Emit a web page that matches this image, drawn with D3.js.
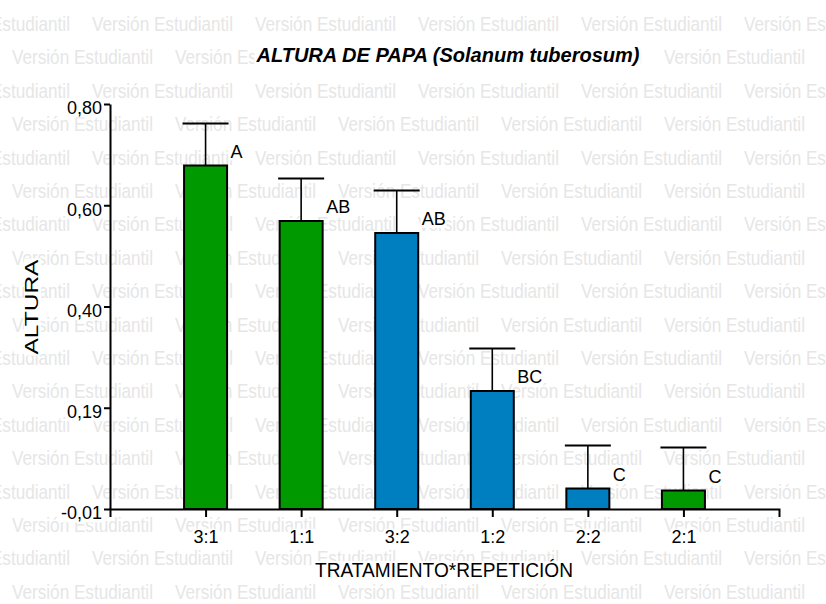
<!DOCTYPE html>
<html>
<head>
<meta charset="utf-8">
<script src="https://cdn.jsdelivr.net/npm/d3@7"></script>
<style>
  body { margin: 0; background: #fff; }
  svg { display: block; font-family: "Liberation Sans", Arial, sans-serif; }
</style>
</head>
<body>
<div id="chart"></div>
<script>
// data
let tratamientos = ["3:1", "1:1", "3:2", "1:2", "2:2", "2:1"];
let alturas = [0.677, 0.566, 0.542, 0.226, 0.031, 0.027];
let errores = [0.084, 0.085, 0.085, 0.085, 0.086, 0.086];
let letras = ["A", "AB", "AB", "BC", "C", "C"];
let colores = ["#009900", "#009900", "#007fc0", "#007fc0", "#007fc0", "#009900"];
let y_ticks = [-0.01, 0.1925, 0.395, 0.5975, 0.80];
let y_labels = ["-0,01", "0,19", "0,40", "0,60", "0,80"];

let width = 826, height = 604;
let svg = d3.select("#chart").append("svg")
    .attr("width", width)
    .attr("height", height);

// watermark rows behind everything
let wm = svg.append("g").attr("fill", "#e6e6e6").style("font-size", "21px");
for (let k = 0; k < 18; k++) {
    let x0 = (k % 2 == 0) ? -71 : 12;
    for (let x = x0; x < width; x += 163) {
        wm.append("text")
            .attr("x", x)
            .attr("y", 31 + k * 33.4)
            .attr("textLength", 141)
            .attr("lengthAdjust", "spacingAndGlyphs")
            .text("Versión Estudiantil");
    }
}

let x = d3.scalePoint()
    .domain(tratamientos)
    .range([110, 779])
    .padding(1);
let y = d3.scaleLinear()
    .domain([-0.01, 0.80])
    .range([509, 104]);

let bar_w = 43;
let rows = tratamientos.map((t, i) => ({ t: t, v: alturas[i], e: errores[i], l: letras[i], c: colores[i] }));

// bars
svg.append("g").selectAll("rect")
    .data(rows)
    .enter()
    .append("rect")
    .attr("x", d => x(d.t) - bar_w / 2)
    .attr("y", d => y(d.v))
    .attr("width", bar_w)
    .attr("height", d => y(-0.01) - y(d.v))
    .attr("fill", d => d.c)
    .attr("stroke", "#000")
    .attr("stroke-width", 2);

// error bars (upper only)
let err = svg.append("g").attr("stroke", "#000");
err.selectAll("line.v")
    .data(rows)
    .enter()
    .append("line")
    .attr("class", "v")
    .attr("x1", d => x(d.t)).attr("x2", d => x(d.t))
    .attr("y1", d => y(d.v)).attr("y2", d => y(d.v + d.e))
    .attr("stroke-width", 1.6);
err.selectAll("line.cap")
    .data(rows)
    .enter()
    .append("line")
    .attr("class", "cap")
    .attr("x1", d => x(d.t) - 23).attr("x2", d => x(d.t) + 23)
    .attr("y1", d => y(d.v + d.e)).attr("y2", d => y(d.v + d.e))
    .attr("stroke-width", 2.2);

// axes
let xAxis = svg.append("g")
    .attr("transform", "translate(0," + y(-0.01) + ")")
    .call(d3.axisBottom(x).tickSize(8).tickSizeOuter(8).tickPadding(13));
let yAxis = svg.append("g")
    .attr("transform", "translate(110,0)")
    .call(d3.axisLeft(y).tickValues(y_ticks).tickFormat((d, i) => y_labels[i]).tickSize(6).tickSizeOuter(0).tickPadding(2));

[xAxis, yAxis].forEach(a => {
    a.select(".domain").attr("stroke-width", 2);
    a.selectAll(".tick line").attr("stroke-width", 2);
    a.selectAll("text").attr("fill", "#000").style("font-size", "18px").style("font-family", "Liberation Sans, Arial, sans-serif");
});
yAxis.selectAll("text").attr("dy", "0.55em").attr("x", -8);

let labels = svg.append("g");

// significance letters
labels.selectAll("text.let")
    .data(rows)
    .enter()
    .append("text")
    .attr("class", "let")
    .attr("x", d => x(d.t) + 25)
    .attr("y", d => y(d.v) - 8)
    .style("font-size", "18px")
    .text(d => d.l);

// title
labels.append("text")
    .attr("x", 448)
    .attr("y", 62)
    .attr("text-anchor", "middle")
    .attr("textLength", 383)
    .attr("lengthAdjust", "spacingAndGlyphs")
    .style("font-size", "20px")
    .style("font-weight", "bold")
    .style("font-style", "italic")
    .text("ALTURA DE PAPA (Solanum tuberosum)");

// axis titles
labels.append("text")
    .attr("x", 444)
    .attr("y", 577)
    .attr("text-anchor", "middle")
    .attr("textLength", 258)
    .attr("lengthAdjust", "spacingAndGlyphs")
    .style("font-size", "20px")
    .text("TRATAMIENTO*REPETICIÓN");

labels.append("text")
    .attr("transform", "translate(38,307) rotate(-90)")
    .attr("text-anchor", "middle")
    .attr("textLength", 95)
    .attr("lengthAdjust", "spacingAndGlyphs")
    .style("font-size", "18px")
    .text("ALTURA");

// white boxes behind the texts, so the watermark does not show through
svg.selectAll("text").each(function () {
    if (this.parentNode === wm.node()) return;
    let b = this.getBBox();
    d3.select(this.parentNode).insert("rect", () => this)
        .attr("x", b.x - 1).attr("y", b.y + 2)
        .attr("width", b.width + 2).attr("height", b.height - 3)
        .attr("transform", this.getAttribute("transform"))
        .attr("fill", "#fff");
});
</script>
</body>
</html>
